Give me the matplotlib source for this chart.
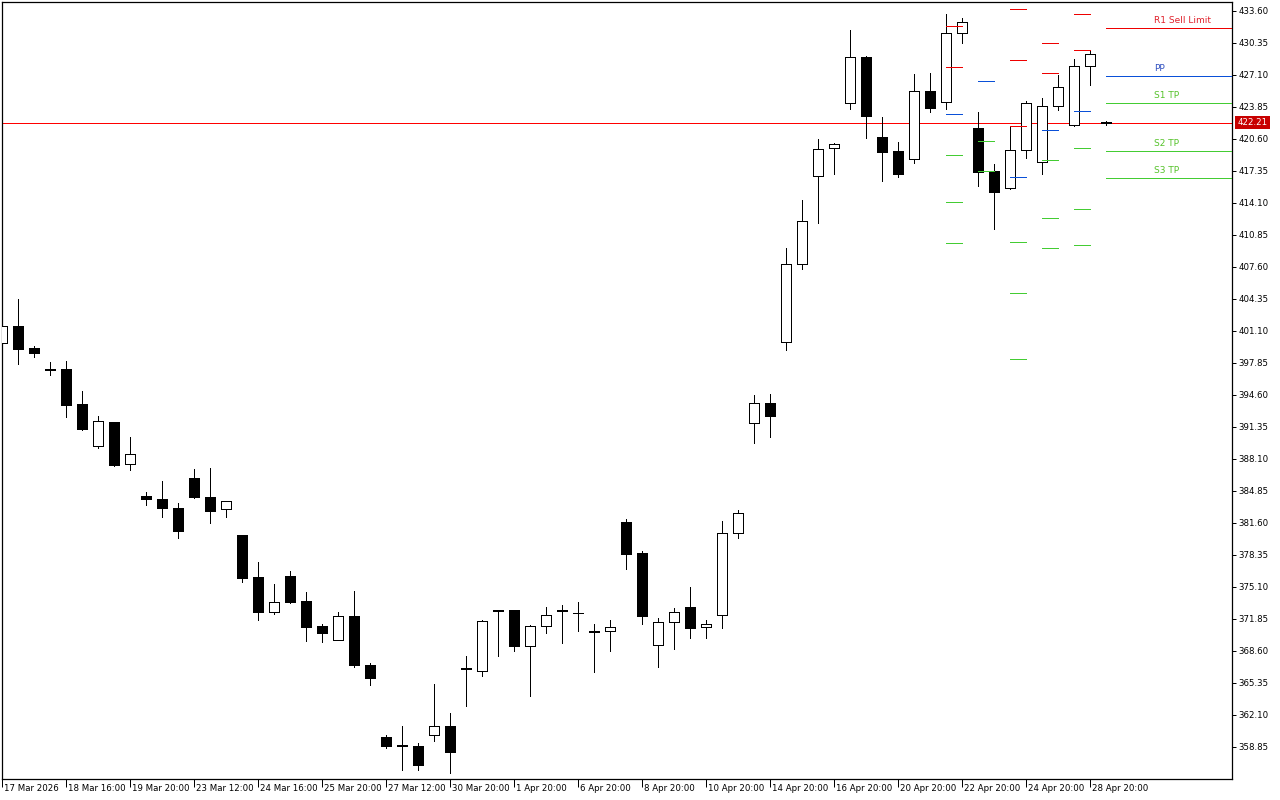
import matplotlib
matplotlib.use("Agg")
import matplotlib.pyplot as plt
import matplotlib.transforms as mtransforms

plt.rcParams['font.family'] = ['DejaVu Sans']

#===========================================================#
#                          K线数据                           #
#===========================================================#
opens = [399.82, 401.58, 399.34, 397.18, 397.21, 393.65, 389.36, 391.80, 387.53, 384.28,
         384.01, 383.09, 386.14, 384.21, 382.96, 380.35, 376.08, 372.56, 376.19, 373.65,
         371.11, 369.72, 372.12, 367.15, 359.83, 359.00, 358.92, 360.01, 360.95, 366.82,
         366.57, 372.72, 372.70, 369.05, 371.07, 372.74, 372.46, 370.55, 370.57, 381.67,
         378.52, 369.15, 371.48, 373.03, 370.98, 372.19, 380.52, 391.69, 393.73, 399.92,
         407.84, 416.78, 419.62, 424.20, 428.87, 420.74, 419.32, 418.51, 425.41, 424.30,
         431.30, 421.66, 417.29, 415.56, 419.42, 418.20, 423.89, 421.96, 427.95, 422.30]
highs = [401.70, 404.32, 399.55, 397.92, 398.02, 394.97, 392.44, 391.85, 390.30, 384.69,
         385.84, 383.57, 387.05, 387.15, 383.80, 380.40, 377.61, 375.37, 376.72, 374.56,
         371.31, 372.53, 374.67, 367.35, 360.04, 360.98, 359.22, 365.22, 362.27, 368.06,
         371.72, 372.76, 372.76, 371.18, 373.03, 373.21, 373.55, 371.28, 371.69, 381.97,
         378.69, 371.92, 372.94, 375.07, 371.69, 381.77, 382.89, 394.57, 394.67, 409.50,
         414.37, 420.57, 420.13, 431.64, 429.00, 422.77, 420.26, 427.17, 427.27, 433.26,
         432.86, 423.31, 418.03, 421.86, 424.40, 424.70, 427.04, 428.66, 429.54, 422.35]
lows = [399.75, 397.75, 398.46, 396.63, 392.37, 391.01, 389.19, 387.40, 386.98, 383.43,
        382.21, 380.08, 384.14, 381.60, 382.21, 375.61, 371.75, 372.36, 373.44, 369.58,
        369.51, 369.65, 366.97, 365.15, 358.75, 356.51, 356.51, 359.46, 356.21, 363.01,
        366.06, 368.09, 368.60, 364.03, 370.43, 369.41, 370.63, 366.47, 368.60, 376.93,
        371.34, 366.97, 368.80, 369.92, 369.92, 370.93, 380.08, 389.72, 390.33, 399.14,
        407.40, 412.07, 417.04, 423.65, 420.70, 416.33, 416.74, 418.16, 423.34, 423.65,
        430.35, 415.83, 411.46, 415.50, 418.67, 417.04, 423.55, 421.90, 426.08, 422.00]
closes = [401.58, 399.27, 398.87, 397.10, 393.58, 391.15, 391.90, 387.49, 388.55, 383.98,
          383.06, 380.79, 384.21, 382.82, 383.77, 376.01, 372.56, 373.51, 373.54, 371.04,
          370.43, 372.12, 367.18, 365.86, 358.95, 358.92, 357.02, 360.95, 358.34, 366.72,
          371.58, 372.62, 369.11, 371.07, 372.19, 372.66, 372.46, 370.45, 370.98, 378.45,
          372.16, 371.48, 372.50, 370.93, 371.28, 380.52, 382.55, 393.73, 392.47, 407.84,
          412.21, 419.52, 420.03, 428.87, 422.94, 419.28, 417.04, 425.41, 423.75, 431.30,
          432.42, 417.25, 415.22, 419.42, 424.20, 423.89, 425.82, 427.95, 429.17, 422.21]

time_labels = ["17 Mar 2026", "18 Mar 16:00", "19 Mar 20:00", "23 Mar 12:00", "24 Mar 16:00",
               "25 Mar 20:00", "27 Mar 12:00", "30 Mar 20:00", "1 Apr 20:00", "6 Apr 20:00",
               "8 Apr 20:00", "10 Apr 20:00", "14 Apr 20:00", "16 Apr 20:00", "20 Apr 20:00",
               "22 Apr 20:00", "24 Apr 20:00", "28 Apr 20:00"]
time_label_bars = [0, 4, 8, 12, 16, 20, 24, 28, 32, 36, 40, 44, 48, 52, 56, 60, 64, 68]

price_ticks = [433.60, 430.35, 427.10, 423.85, 420.60, 417.35, 414.10, 410.85, 407.60, 404.35,
               401.10, 397.85, 394.60, 391.35, 388.10, 384.85, 381.60, 378.35, 375.10, 371.85,
               368.60, 365.35, 362.10, 358.85]

current_price = 422.21

#===========================================================#
#                   每日枢轴点 (短横线)                        #
#===========================================================#
pivot_bars = [59, 61, 63, 65, 67]
pivot_red = [[432.02, 427.85], [], [433.74, 428.56, 421.86], [430.29, 427.24], [433.23, 429.58]]
pivot_blue = [423.08, 426.43, 416.68, 421.45, 423.38]
pivot_green = [[418.91, 414.14, 409.98], [420.34, 417.28], [410.08, 404.90, 398.20],
               [418.41, 412.52, 409.47], [419.62, 413.43, 409.77]]

# 当前的水平线
level_names = ["R1 Sell Limit", "PP", "S1 TP", "S2 TP", "S3 TP"]
level_prices = [431.81, 426.94, 424.20, 419.32, 416.58]
level_start_bar = 69

RED = '#ee0000'
BLUE = '#0a50d8'
GREEN = '#44cc33'
level_colors = [RED, BLUE, GREEN, GREEN, GREEN]
level_text_colors = ['#e0202a', '#3050c0', '#55c22a', '#55c22a', '#55c22a']

LW = 0.72  # 1 像素

#===========================================================#
#                          绘图                              #
#===========================================================#
fig = plt.figure(figsize=(12.8, 8), dpi=100)
W, H = 1280.0, 800.0
ax = fig.add_axes([2 / W, (H - 779) / H, (1232 - 2) / W, (779 - 2) / H])

# 当前价格线
ax.axhline(current_price, color='#ff0000', lw=LW, zorder=1, antialiased=False)

# K线
for i in range(len(opens)):
    o, h, l, c = opens[i], highs[i], lows[i], closes[i]
    ax.vlines(i, l, h, color='black', lw=LW, zorder=2, antialiased=False)
    face = 'white' if c > o else 'black'
    ax.bar(i, abs(c - o), bottom=min(o, c), width=0.62, facecolor=face,
           edgecolor='black', linewidth=LW, zorder=3, antialiased=False)

# 过去几天的枢轴短线
for k, b in enumerate(pivot_bars):
    for p in pivot_red[k]:
        ax.hlines(p, b, b + 1, color=RED, lw=LW, zorder=4, antialiased=False)
    ax.hlines(pivot_blue[k], b, b + 1, color=BLUE, lw=LW, zorder=4, antialiased=False)
    for p in pivot_green[k]:
        ax.hlines(p, b, b + 1, color=GREEN, lw=LW, zorder=4, antialiased=False)

# 当前枢轴线 + 标签
for name, p, col, tcol in zip(level_names, level_prices, level_colors, level_text_colors):
    ax.hlines(p, level_start_bar, 80, color=col, lw=LW, zorder=4, antialiased=False)
    ax.annotate(name, xy=(71.98, p), xytext=(0, 2.2), textcoords='offset points',
                ha='left', va='bottom', fontsize=6.5, color=tcol)

# 坐标范围
ax.set_xlim(-0.02, 76.86)
ax.set_ylim(355.57, 434.48)

# Y轴 (右侧)
ax.yaxis.tick_right()
ax.set_yticks(price_ticks)
ax.set_yticklabels(['%.2f' % v for v in price_ticks])
ax.tick_params(axis='y', direction='out', length=3, width=LW, pad=1.5, labelsize=6.2)
for lbl in ax.get_yticklabels():
    lbl.set_ha('left')

# X轴
ax.set_xticks(time_label_bars)
ax.set_xticklabels(time_labels)
ax.tick_params(axis='x', direction='out', length=6, width=LW, pad=-2.5, labelsize=6.2)
offset = mtransforms.ScaledTranslation(2 / 100, 0, fig.dpi_scale_trans)
for lbl in ax.get_xticklabels():
    lbl.set_ha('left')
    lbl.set_transform(lbl.get_transform() + offset)

for sp in ax.spines.values():
    sp.set_linewidth(0.9)
    sp.set_color('black')

# 当前价格标签
ax.annotate('%.2f' % current_price, xy=(1, current_price),
            xycoords=('axes fraction', 'data'), xytext=(4, 0), textcoords='offset points',
            ha='left', va='center', fontsize=6.2, color='white',
            bbox=dict(boxstyle='square,pad=0.25', facecolor='#c80000', edgecolor='none'),
            annotation_clip=False)

plt.savefig('out.png', dpi=100)
